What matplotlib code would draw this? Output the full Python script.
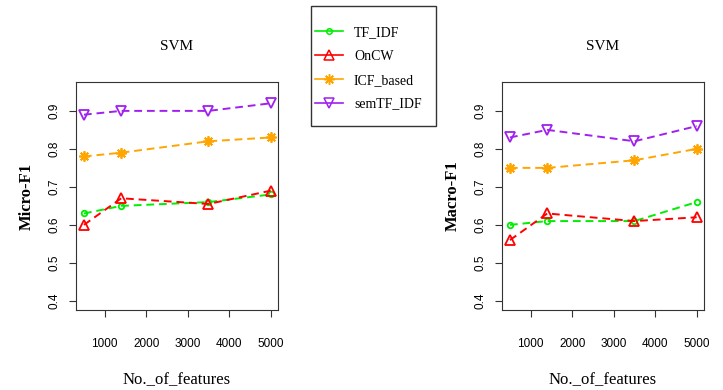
import matplotlib
matplotlib.use("Agg")
from matplotlib import pyplot as plt
from matplotlib.lines import Line2D
from matplotlib.patches import Rectangle

features = [500, 1400, 3500, 5000]
series_names = ["TF_IDF", "OnCW", "ICF_based", "semTF_IDF"]

# Micro-F1 (left panel)
micro_tfidf = [0.63, 0.65, 0.66, 0.68]
micro_oncw = [0.60, 0.67, 0.655, 0.69]
micro_icf = [0.78, 0.79, 0.82, 0.83]
micro_sem = [0.89, 0.90, 0.90, 0.92]

# Macro-F1 (right panel)
macro_tfidf = [0.60, 0.61, 0.61, 0.66]
macro_oncw = [0.56, 0.63, 0.61, 0.62]
macro_icf = [0.75, 0.75, 0.77, 0.80]
macro_sem = [0.83, 0.85, 0.82, 0.86]

x_ticks = [1000, 2000, 3000, 4000, 5000]
y_ticks = [0.4, 0.5, 0.6, 0.7, 0.8, 0.9]

colors = ["#00ee00", "#ff0000", "#ffa500", "#a020f0"]
markers = ["o", "^", (8, 2, 0), "v"]
msizes = [4, 7, 7.5, 7]

serif = "Liberation Serif"
sans = "Liberation Sans"


def draw_panel(ax, data, ylabel):
    for vals, c, m, ms in zip(data, colors, markers, msizes):
        ax.plot(features, vals, color=c, lw=1.4, ls=(0, (4, 2.5)),
                marker=m, ms=ms, mfc="none", mec=c, mew=1.3)
    ax.set_xlim(309, 5176)
    ax.set_ylim(0.376, 0.976)
    ax.set_xticks(x_ticks)
    ax.set_yticks(y_ticks)
    ax.set_xticklabels([str(t) for t in x_ticks], fontsize=8.5, family=sans)
    ax.set_yticklabels([f"{t:.1f}" for t in y_ticks], fontsize=8.5,
                       family=sans, rotation=90, va="center")
    ax.tick_params(axis="both", direction="out", length=5, color="#333333",
                   pad=6)
    ax.tick_params(axis="x", pad=15)
    for s in ax.spines.values():
        s.set_color("#333333")
    ax.set_title("SVM", family=serif, fontsize=11, pad=23)
    ax.set_xlabel("No._of_features", family=serif, fontsize=12, labelpad=16)
    ax.set_ylabel(ylabel, family=serif, fontsize=12, fontweight="bold",
                  labelpad=10)


fig = plt.figure(figsize=(7.23, 3.9), dpi=100)
ax1 = fig.add_axes([76 / 723, 1 - 310 / 390, 202 / 723, 228 / 390])
ax2 = fig.add_axes([502 / 723, 1 - 310 / 390, 202 / 723, 228 / 390])

draw_panel(ax1, [micro_tfidf, micro_oncw, micro_icf, micro_sem], "Micro-F1")
draw_panel(ax2, [macro_tfidf, macro_oncw, macro_icf, macro_sem], "Macro-F1")

# legend frame drawn separately, entries without frame
fig.patches.append(Rectangle((311 / 723, 1 - 126 / 390), 125 / 723,
                             120 / 390, transform=fig.transFigure,
                             fill=False, edgecolor="#333333", lw=1.0))
handles = [Line2D([0], [0], color=c, lw=1.2, marker=m, ms=ms,
                  mfc="none", mec=c, mew=1.1)
           for c, m, ms in zip(colors, markers, msizes)]
fig.legend(handles, series_names, loc="upper left",
           bbox_to_anchor=(315 / 723, 1 - 26 / 390),
           prop={"family": serif, "size": 10}, frameon=False,
           handlelength=2.0, handletextpad=0.8, labelspacing=0.78,
           borderpad=0, borderaxespad=0)

fig.savefig("out.png", dpi=100)
